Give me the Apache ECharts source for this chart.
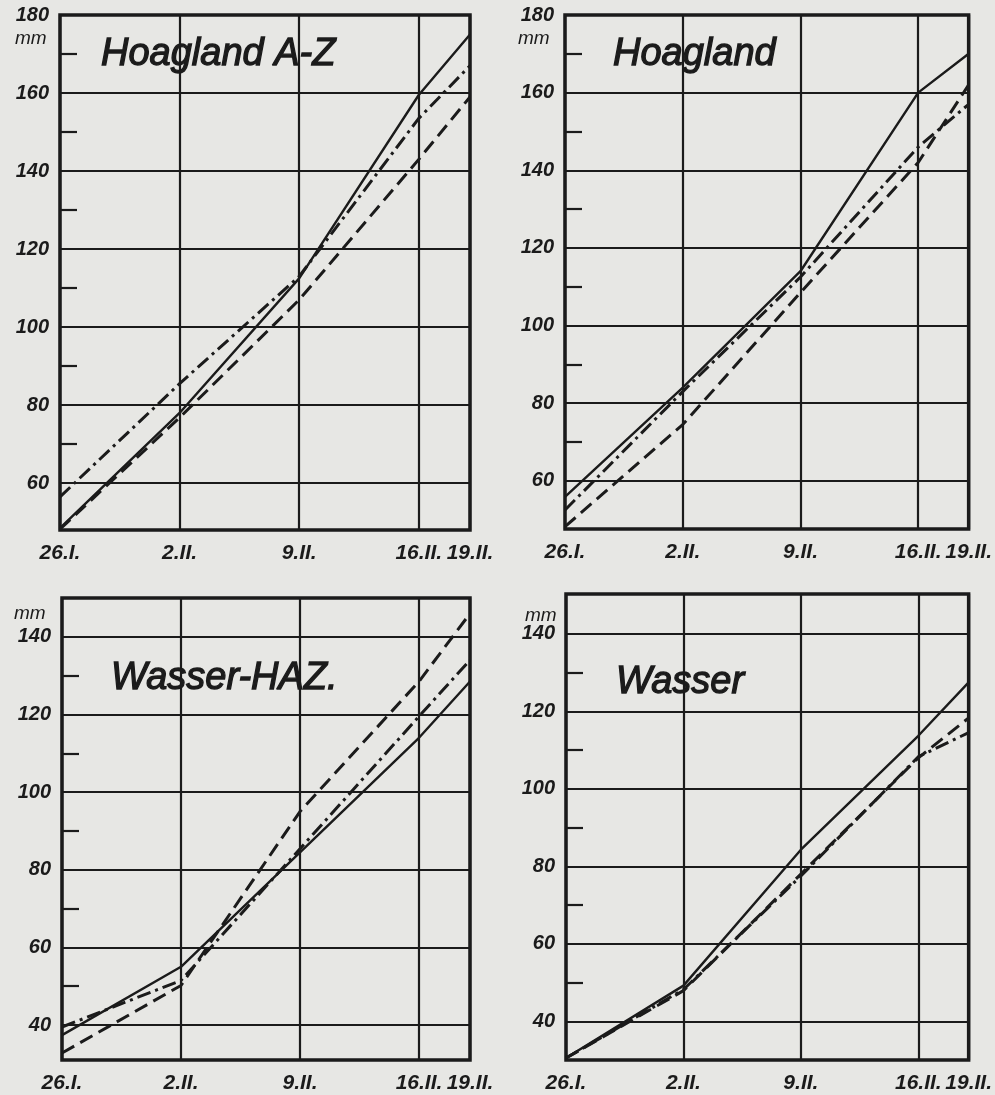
<!DOCTYPE html>
<html>
<head>
<meta charset="utf-8">
<script src="https://cdn.jsdelivr.net/npm/echarts@6/dist/echarts.min.js"></script>
<style>
  html, body { margin: 0; padding: 0; background: #e7e7e4; }
  #chart { width: 995px; height: 1095px; }
</style>
</head>
<body>
<div id="chart"></div>
<script>
// x positions: days after 26.I.
const days = [0, 7, 14, 21, 24];
const dateLabels = ['26.I.', '2.II.', '9.II.', '16.II.', '19.II.'];
const panelTitles = ['Hoagland A-Z', 'Hoagland', 'Wasser-HAZ.', 'Wasser'];

// y tick labels
const topLabelValues = [60, 80, 100, 120, 140, 160, 180];
const topGridValues = [60, 80, 100, 120, 140, 160];
const topMinorValues = [70, 90, 110, 130, 150, 170];
const bottomLabelValues = [40, 60, 80, 100, 120, 140];
const bottomGridValues = [40, 60, 80, 100, 120, 140];
const bottomMinorValues = [50, 70, 90, 110, 130];

// axis extents (mm)
const yMins = [48, 47.6, 31, 30];
const yMaxs = [180, 180, 150, 150.3];

// Hoagland A-Z
const hoaglandAZ_solid   = [48.5, 78, 112.5, 159.5, 175];
const hoaglandAZ_dashDot = [56.5, 85.5, 113, 153.5, 167];
const hoaglandAZ_dashed  = [48.2, 76.8, 107, 143, 159];
// Hoagland
const hoagland_solid   = [55.9, 84, 114, 160, 170];
const hoagland_dashDot = [52.5, 83, 112.5, 146, 157];
const hoagland_dashed  = [48.2, 74.5, 108.5, 142, 162];
// Wasser-HAZ.
const wasserHAZ_solid   = [37.4, 55, 84.5, 114, 128.5];
const wasserHAZ_dashDot = [39.5, 51.5, 85.4, 119.5, 134];
const wasserHAZ_dashed  = [32.8, 50.2, 95, 128.5, 146];
// Wasser
const wasser_solid   = [30.5, 49.2, 84.3, 113.7, 127.5];
const wasser_dashDot = [30.5, 48.2, 77.5, 108.3, 114.5];
const wasser_dashed  = [30.5, 47.9, 78, 108, 118.3];

const panelSeries = [
  [hoaglandAZ_solid, hoaglandAZ_dashDot, hoaglandAZ_dashed],
  [hoagland_solid, hoagland_dashDot, hoagland_dashed],
  [wasserHAZ_solid, wasserHAZ_dashDot, wasserHAZ_dashed],
  [wasser_solid, wasser_dashDot, wasser_dashed]
];

const FONT = "'Liberation Sans', 'DejaVu Sans', Arial, sans-serif";
const INK = '#1b1b1b';

const gridBoxes = [
  { left: 60,  top: 15,  width: 410, height: 515 },
  { left: 565, top: 15,  width: 407, height: 514 },
  { left: 62,  top: 598, width: 408, height: 462 },
  { left: 566, top: 594, width: 407, height: 466 }
];

const grid = gridBoxes.map(g => Object.assign({ show: true, borderColor: INK, borderWidth: 3.5, backgroundColor: 'transparent' }, g));

const labelStyle = { fontFamily: FONT, fontStyle: 'italic', fontWeight: 'bold', fontSize: 20, color: INK };
const xLabelStyle = { fontFamily: FONT, fontStyle: 'italic', fontWeight: 'bold', fontSize: 21, color: INK };

const xAxis = gridBoxes.map((g, i) => ({
  type: 'value', gridIndex: i, min: 0, max: 24, interval: 7,
  axisLine: { show: false },
  axisTick: { show: false },
  axisLabel: Object.assign({
    customValues: days,
    margin: 13,
    formatter: v => dateLabels[days.indexOf(Math.round(v))] || ''
  }, xLabelStyle),
  splitLine: { show: true, lineStyle: { color: INK, width: 2.2 } }
}));

const yAxis = [];
gridBoxes.forEach((g, i) => {
  const top = i < 2;
  yAxis.push({
    type: 'value', gridIndex: i, min: yMins[i], max: yMaxs[i],
    axisLine: { show: false },
    axisTick: { show: false, customValues: top ? topGridValues : bottomGridValues },
    axisLabel: Object.assign({ customValues: top ? topLabelValues : bottomLabelValues, margin: 11 }, labelStyle),
    splitLine: { show: true, lineStyle: { color: INK, width: 2.2 } }
  });
  yAxis.push({
    type: 'value', gridIndex: i, min: yMins[i], max: yMaxs[i], position: 'left',
    axisLine: { show: false },
    axisTick: { show: true, inside: true, length: 17, customValues: top ? topMinorValues : bottomMinorValues, lineStyle: { color: INK, width: 2.2 } },
    axisLabel: { show: false },
    splitLine: { show: false }
  });
});

const styles = [
  { type: 'solid', width: 2.4 },
  { type: [14, 5, 3, 5], width: 3 },
  { type: [14, 7], width: 3 }
];
const styleNames = ['solid', 'dash-dot', 'dashed'];

const series = [];
panelSeries.forEach((arrs, i) => {
  arrs.forEach((vals, k) => {
    series.push({
      name: panelTitles[i] + ' ' + styleNames[k],
      type: 'line',
      xAxisIndex: i,
      yAxisIndex: i * 2,
      data: days.map((d, j) => [d, vals[j]]),
      symbol: 'none',
      smooth: false,
      lineStyle: { color: INK, width: styles[k].width, type: styles[k].type, cap: 'butt' },
      z: 5
    });
  });
});

const titleStyle = { fontFamily: FONT, fontStyle: 'italic', fontWeight: 'normal', fontSize: 38, color: INK, textBorderColor: INK, textBorderWidth: 1.3 };
const mmStyle = { fontFamily: FONT, fontStyle: 'italic', fontWeight: 'normal', fontSize: 19, color: INK };

const title = [
  { text: panelTitles[0], left: 101, top: 35, padding: 0, textStyle: titleStyle },
  { text: panelTitles[1], left: 613, top: 35, padding: 0, textStyle: titleStyle },
  { text: panelTitles[2], left: 111, top: 659, padding: 0, textStyle: titleStyle },
  { text: panelTitles[3], left: 616, top: 663, padding: 0, textStyle: titleStyle },
  { text: 'mm', left: 15, top: 29, padding: 0, textStyle: mmStyle },
  { text: 'mm', left: 518, top: 29, padding: 0, textStyle: mmStyle },
  { text: 'mm', left: 14, top: 604, padding: 0, textStyle: mmStyle },
  { text: 'mm', left: 525, top: 606, padding: 0, textStyle: mmStyle }
];

const chart = echarts.init(document.getElementById('chart'), null, { renderer: 'canvas' });
chart.setOption({
  backgroundColor: '#e7e7e4',
  animation: false,
  title, grid, xAxis, yAxis, series
});
</script>
</body>
</html>
